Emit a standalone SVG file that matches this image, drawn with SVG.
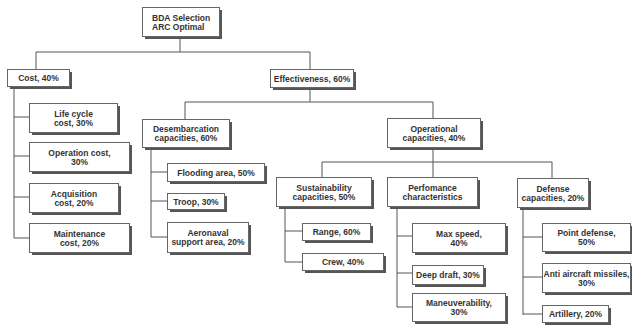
<svg xmlns="http://www.w3.org/2000/svg" width="632" height="325" viewBox="0 0 632 325">
<style>
.sh{fill:#555;}
.bx{fill:#fff;stroke:#666;stroke-width:1;}
.t{font-family:"Liberation Sans",Arial,sans-serif;font-weight:bold;font-size:8.5px;fill:#333;text-anchor:middle;}
.tl{text-anchor:start;}
.c{fill:none;stroke:#555;stroke-width:1;}
</style>
<rect width="632" height="325" fill="#fff"/>
<g id="connectors" class="c">
<path d="M180 36V52M36 52H310M36 52V69M310 52V69"/>
<path d="M14 86V238M14 117H29M14 156H29M14 197H29M14 238H29"/>
<path d="M310 87V102M185 102H433M185 102V119M433 102V118"/>
<path d="M151 147V237M151 172H167M151 201H167M151 237H167"/>
<path d="M433 147V177M322 162H552M322 162V177M552 162V178"/>
<path d="M285 206V262M285 231H302M285 262H302"/>
<path d="M397 206V307M397 236H412M397 273H412M397 307H412"/>
<path d="M523 207V315M523 237H542M523 277H542M523 314H542"/>
</g>
<g id="root"><rect class="sh" x="145" y="10" width="77" height="29"/><rect class="bx" x="142.5" y="7.5" width="77" height="29"/><text class="t tl" x="152" y="20.5" font-size="9">BDA Selection</text><text class="t tl" x="152" y="29.5" font-size="9">ARC Optimal</text></g>
<g id="cost"><rect class="sh" x="10" y="72" width="62" height="17"/><rect class="bx" x="7.5" y="69.5" width="62" height="17"/><text class="t" x="38.5" y="81">Cost, 40%</text></g>
<g id="effectiveness"><rect class="sh" x="273" y="72" width="83" height="18"/><rect class="bx" x="270.5" y="69.5" width="83" height="18"/><text class="t" x="312" y="81.5">Effectiveness, 60%</text></g>
<g id="lifecycle"><rect class="sh" x="32" y="106" width="88" height="29"/><rect class="bx" x="29.5" y="103.5" width="88" height="29"/><text class="t" x="73.5" y="116.5">Life cycle</text><text class="t" x="73.5" y="125.5">cost, 30%</text></g>
<g id="operation"><rect class="sh" x="32" y="145" width="100" height="29"/><rect class="bx" x="29.5" y="142.5" width="100" height="29"/><text class="t" x="79.5" y="155.5">Operation cost,</text><text class="t" x="79.5" y="164.5">30%</text></g>
<g id="acquisition"><rect class="sh" x="32" y="186" width="89" height="29"/><rect class="bx" x="29.5" y="183.5" width="89" height="29"/><text class="t" x="74" y="196.5">Acquisition</text><text class="t" x="74" y="205.5">cost, 20%</text></g>
<g id="maintenance"><rect class="sh" x="32" y="226" width="100" height="29"/><rect class="bx" x="29.5" y="223.5" width="100" height="29"/><text class="t" x="79.5" y="236.5">Maintenance</text><text class="t" x="79.5" y="245.5">cost, 20%</text></g>
<g id="desembarcation"><rect class="sh" x="145" y="122" width="87" height="28"/><rect class="bx" x="142.5" y="119.5" width="87" height="28"/><text class="t" x="186" y="132">Desembarcation</text><text class="t" x="186" y="141">capacities, 60%</text></g>
<g id="flooding"><rect class="sh" x="170" y="166" width="97" height="18"/><rect class="bx" x="167.5" y="163.5" width="97" height="18"/><text class="t" x="216" y="175.5">Flooding area, 50%</text></g>
<g id="troop"><rect class="sh" x="170" y="196" width="57" height="16"/><rect class="bx" x="167.5" y="193.5" width="57" height="16"/><text class="t" x="196" y="204.5">Troop, 30%</text></g>
<g id="aeronaval"><rect class="sh" x="170" y="225" width="81" height="30"/><rect class="bx" x="167.5" y="222.5" width="81" height="30"/><text class="t" x="208" y="236">Aeronaval</text><text class="t" x="208" y="245">support area, 20%</text></g>
<g id="operational"><rect class="sh" x="390" y="121" width="93" height="29"/><rect class="bx" x="387.5" y="118.5" width="93" height="29"/><text class="t" x="434" y="131.5">Operational</text><text class="t" x="434" y="140.5">capacities, 40%</text></g>
<g id="sustainability"><rect class="sh" x="279" y="180" width="95" height="29"/><rect class="bx" x="276.5" y="177.5" width="95" height="29"/><text class="t" x="324" y="190.5">Sustainability</text><text class="t" x="324" y="199.5">capacities, 50%</text></g>
<g id="performance"><rect class="sh" x="390" y="180" width="90" height="29"/><rect class="bx" x="387.5" y="177.5" width="90" height="29"/><text class="t" x="432.5" y="190.5">Perfomance</text><text class="t" x="432.5" y="199.5">characteristics</text></g>
<g id="defense"><rect class="sh" x="520" y="181" width="71" height="29"/><rect class="bx" x="517.5" y="178.5" width="71" height="29"/><text class="t" x="553" y="191.5">Defense</text><text class="t" x="553" y="200.5">capacities, 20%</text></g>
<g id="range"><rect class="sh" x="305" y="226" width="68" height="17"/><rect class="bx" x="302.5" y="223.5" width="68" height="17"/><text class="t" x="336.5" y="235">Range, 60%</text></g>
<g id="crew"><rect class="sh" x="305" y="256" width="81" height="17"/><rect class="bx" x="302.5" y="253.5" width="81" height="17"/><text class="t" x="343" y="265">Crew, 40%</text></g>
<g id="maxspeed"><rect class="sh" x="415" y="226" width="93" height="29"/><rect class="bx" x="412.5" y="223.5" width="93" height="29"/><text class="t" x="459" y="236.5">Max speed,</text><text class="t" x="459" y="245.5">40%</text></g>
<g id="deepdraft"><rect class="sh" x="415" y="268" width="71" height="19"/><rect class="bx" x="412.5" y="265.5" width="71" height="19"/><text class="t" x="448" y="278">Deep draft, 30%</text></g>
<g id="maneuverability"><rect class="sh" x="415" y="296" width="93" height="28"/><rect class="bx" x="412.5" y="293.5" width="93" height="28"/><text class="t" x="459" y="306">Maneuverability,</text><text class="t" x="459" y="315">30%</text></g>
<g id="pointdefense"><rect class="sh" x="545" y="226" width="88" height="28"/><rect class="bx" x="542.5" y="223.5" width="88" height="28"/><text class="t" x="586.5" y="236">Point defense,</text><text class="t" x="586.5" y="245">50%</text></g>
<g id="antiaircraft"><rect class="sh" x="545" y="266" width="88" height="29"/><rect class="bx" x="542.5" y="263.5" width="88" height="29"/><text class="t" x="586.5" y="276.5">Anti aircraft missiles,</text><text class="t" x="586.5" y="285.5">30%</text></g>
<g id="artillery"><rect class="sh" x="545" y="308" width="66" height="17"/><rect class="bx" x="542.5" y="305.5" width="66" height="17"/><text class="t" x="575.5" y="317">Artillery, 20%</text></g>
</svg>
